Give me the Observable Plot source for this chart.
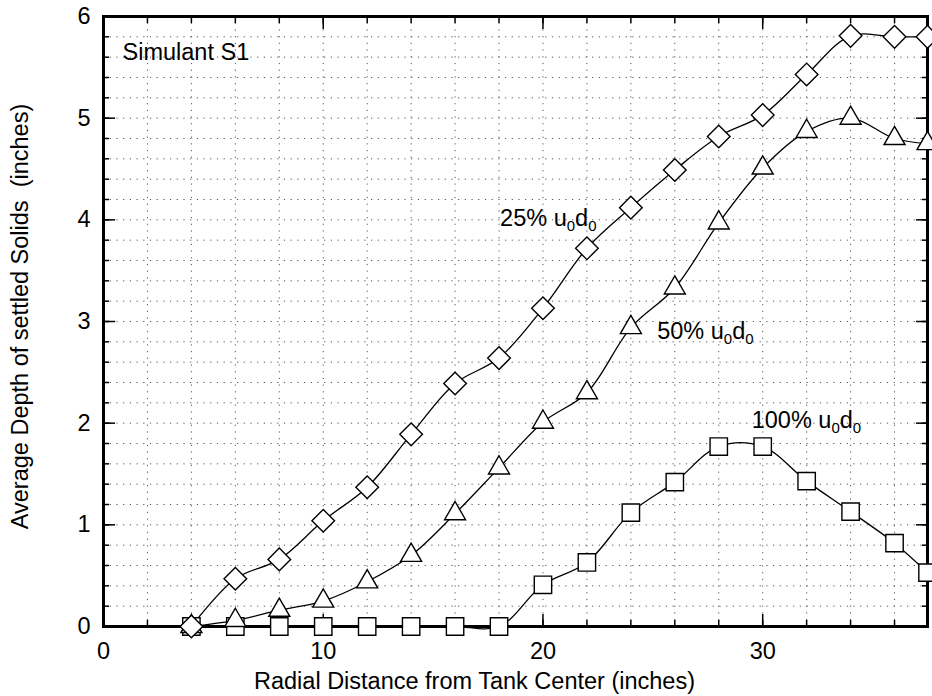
<!DOCTYPE html>
<html><head><meta charset="utf-8">
<script src="https://cdn.jsdelivr.net/npm/d3@7"></script>
<script src="https://cdn.jsdelivr.net/npm/@observablehq/plot@0.6"></script>
<style>
html,body{margin:0;padding:0;background:#fff;}
svg text{font-family:"Liberation Sans",Arial,Helvetica,sans-serif;}
</style></head><body><div id="chart"></div>
<script>
// Radial distance (inches)
const radius = [4, 6, 8, 10, 12, 14, 16, 18, 20, 22, 24, 26, 28, 30, 32, 34, 36, 37.5];
// Average depth of settled solids (inches)
const depth25  = [0, 0.47, 0.66, 1.04, 1.37, 1.89, 2.39, 2.64, 3.13, 3.72, 4.12, 4.49, 4.82, 5.03, 5.43, 5.81, 5.80, 5.80];
const depth50  = [0, 0.06, 0.16, 0.25, 0.44, 0.70, 1.11, 1.56, 2.01, 2.30, 2.94, 3.33, 3.97, 4.51, 4.87, 5.00, 4.80, 4.75];
const depth100 = [0, 0, 0, 0, 0, 0, 0, 0, 0.41, 0.63, 1.12, 1.42, 1.77, 1.77, 1.43, 1.13, 0.82, 0.53];

const seriesNames = ["100%", "50%", "25%"];
const seriesSymbols = ["square", "triangle", "diamond2"];
const seriesR = [9.8, 7.8, 10.2];

// series label annotations (data coordinates)
const labelNames = ["25%", "50%", "100%"];
const labelX = [18.05, 25.2, 29.5];
const labelY = [3.94, 2.83, 1.95];

// ticks
const xTickLabels = [0, 10, 20, 30];
const yTickLabels = [0, 1, 2, 3, 4, 5, 6];
const xMinorTicks = d3.range(2, 37, 2);
const yMinorTicks = d3.range(1, 30).map(i => i / 5);

const xTitle = "Radial Distance from Tank Center (inches)";
const yTitle = "Average Depth of settled Solids  (inches)";
const note = "Simulant S1";

const seriesValues = [depth100, depth50, depth25];
const rows = [];
seriesNames.forEach((s, k) => radius.forEach((x, i) => rows.push({series: s, x, y: seriesValues[k][i]})));
const labels = labelNames.map((n, i) => ({text: n + " u0d0", x: labelX[i], y: labelY[i]}));

const FS = 23.5;
const gridStyle = {stroke: "#555", strokeOpacity: 1, strokeWidth: 1, strokeDasharray: "1.2,5.5"};
const tickStyle = {text: null, label: null, strokeWidth: 1.5};

const marks = [
  Plot.gridX({ticks: xMinorTicks, ...gridStyle}),
  Plot.gridY({ticks: yMinorTicks, ...gridStyle}),
  Plot.axisX({anchor: "bottom", ticks: xMinorTicks, tickSize: -6, ...tickStyle}),
  Plot.axisX({anchor: "top", ticks: xMinorTicks, tickSize: -6, ...tickStyle}),
  Plot.axisX({anchor: "bottom", ticks: xTickLabels, tickSize: -12, ...tickStyle}),
  Plot.axisX({anchor: "top", ticks: xTickLabels, tickSize: -12, ...tickStyle}),
  Plot.axisY({anchor: "left", ticks: yMinorTicks, tickSize: -6, ...tickStyle}),
  Plot.axisY({anchor: "right", ticks: yMinorTicks, tickSize: -6, ...tickStyle}),
  Plot.axisY({anchor: "left", ticks: yTickLabels, tickSize: -12, ...tickStyle}),
  Plot.axisY({anchor: "right", ticks: yTickLabels, tickSize: -12, ...tickStyle}),
  Plot.axisX({anchor: "bottom", ticks: xTickLabels, tickSize: 0, tickPadding: 16, fontSize: FS, label: null, tickFormat: d3.format("d")}),
  Plot.axisY({anchor: "left", ticks: yTickLabels, tickSize: 0, tickPadding: 13, fontSize: FS, label: null, tickFormat: d3.format("d")}),
  Plot.frame({stroke: "black", strokeWidth: 3}),
  Plot.line(rows, {x: "x", y: "y", z: "series", curve: "catmull-rom", stroke: "black", strokeWidth: 1.3})
];
seriesNames.forEach((s, k) => {
  marks.push(Plot.dot(rows.filter(d => d.series === s), {
    x: "x", y: "y", symbol: () => seriesSymbols[k], r: seriesR[k],
    fill: "white", stroke: "black", strokeWidth: 1.4
  }));
});
marks.push(
  Plot.text(labels, {x: "x", y: "y", text: "text", textAnchor: "start", lineAnchor: "bottom", fontSize: FS, fill: "black"}),
  Plot.text([note], {text: d => d, frameAnchor: "top-left", dx: 19, dy: 27, lineAnchor: "top", textAnchor: "start", fontSize: FS}),
  Plot.text([xTitle], {text: d => d, frameAnchor: "bottom", dx: -41, dy: 62, lineAnchor: "bottom", textAnchor: "middle", fontSize: FS}),
  Plot.text([yTitle], {text: d => d, frameAnchor: "left", dx: -76, dy: -5, rotate: -90, lineAnchor: "bottom", textAnchor: "middle", fontSize: FS})
);

const plot = Plot.plot({
  width: 932, height: 696,
  marginLeft: 103, marginRight: 5, marginTop: 16, marginBottom: 70,
  x: {domain: [0, 37.5]},
  y: {domain: [0, 6]},
  symbol: {type: "identity"},
  style: {fontFamily: '"Liberation Sans", Arial, Helvetica, sans-serif', background: "white", color: "black"},
  marks
});

// subscripts for u0d0
const NS = "http://www.w3.org/2000/svg";
plot.querySelectorAll("text").forEach(t => {
  const m = t.textContent.match(/^(.*u)0d0$/);
  if (!m) return;
  t.textContent = "";
  const parts = [[m[1], null, 0], ["0", 15, 5], ["d", null, -5], ["0", 15, 5]];
  parts.forEach(([s, fs, dy]) => {
    const sp = document.createElementNS(NS, "tspan");
    sp.textContent = s;
    if (fs) sp.setAttribute("font-size", fs);
    if (dy) sp.setAttribute("dy", dy);
    t.appendChild(sp);
  });
});

document.getElementById("chart").appendChild(plot);
</script>
</body></html>
